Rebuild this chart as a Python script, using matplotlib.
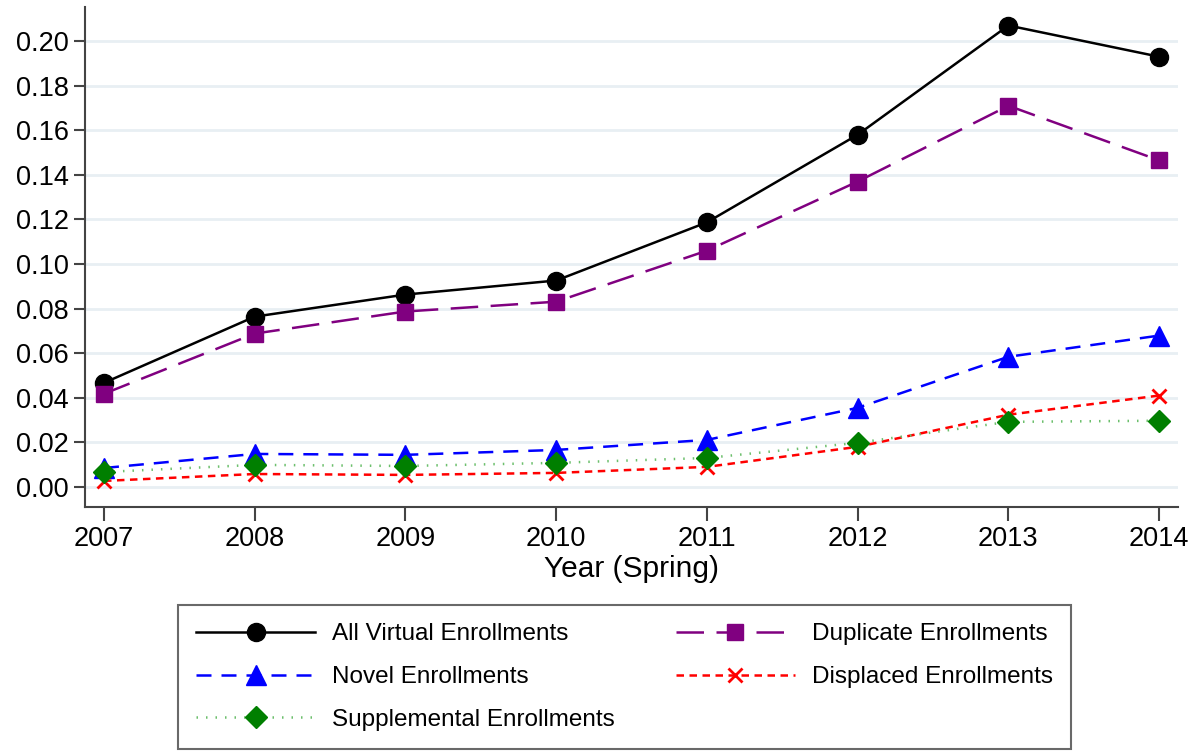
import matplotlib
matplotlib.use("Agg")
import matplotlib.pyplot as plt

years = [2007, 2008, 2009, 2010, 2011, 2012, 2013, 2014]
all_virtual = [0.0467, 0.0764, 0.0863, 0.0926, 0.1187, 0.158, 0.207, 0.193]
duplicate = [0.0418, 0.0688, 0.0787, 0.0831, 0.106, 0.137, 0.171, 0.1465]
novel = [0.0085, 0.0148, 0.0144, 0.0166, 0.0211, 0.0355, 0.0584, 0.0679]
displaced = [0.0027, 0.0058, 0.0054, 0.0063, 0.009, 0.018, 0.0324, 0.041]
supplemental = [0.0067, 0.0099, 0.0094, 0.0108, 0.013, 0.0198, 0.0292, 0.0297]
yticks = [0.00, 0.02, 0.04, 0.06, 0.08, 0.10, 0.12, 0.14, 0.16, 0.18, 0.20]

plt.rcParams['font.family'] = ['Liberation Sans', 'DejaVu Sans']

fig = plt.figure(figsize=(12.01, 7.51), dpi=100)
ax = fig.add_axes([85/1201, 244/751, (1178-85)/1201, (507-7)/751])

h_all, = ax.plot(years, all_virtual, color='black', lw=1.8, marker='o', ms=13,
                 label='All Virtual Enrollments', zorder=5)
h_dup, = ax.plot(years, duplicate, color='#800080', lw=1.8, marker='s', ms=12,
                 dashes=(11, 5), label='Duplicate Enrollments', zorder=5)
h_nov, = ax.plot(years, novel, color='blue', lw=1.8, marker='^', ms=14,
                 dashes=(6, 4), label='Novel Enrollments', zorder=4)
h_dis, = ax.plot(years, displaced, color='red', lw=1.8, marker='x', ms=10, mew=2,
                 dashes=(3, 2.2), label='Displaced Enrollments', zorder=4)
h_sup, = ax.plot(years, supplemental, color='#6cbf6c', lw=1.8, marker='D', ms=11,
                 mfc='#007f00', mec='#007f00', dashes=(0.6, 3.2),
                 label='Supplemental Enrollments', zorder=4)

ax.set_xlim(2007 - 0.126, 2014 + 0.125)
ax.set_ylim(-0.009, 0.2153)
ax.set_yticks(yticks)
ax.set_yticklabels([f"{v:.2f}" for v in yticks])
ax.set_xticks(years)
ax.grid(axis='y', color='#e8eff3', lw=2)
ax.set_axisbelow(True)
for s in ['top', 'right']:
    ax.spines[s].set_visible(False)
for s in ['left', 'bottom']:
    ax.spines[s].set_color('#444444')
    ax.spines[s].set_linewidth(1.5)
ax.tick_params(axis='both', labelsize=19.5, colors='#444444', labelcolor='black',
               width=1.5)
ax.tick_params(axis='y', length=8)
ax.tick_params(axis='x', length=10)
ax.set_xlabel('Year (Spring)', fontsize=21.5, labelpad=2)

# column-wise fill so rows read: All | Duplicate, Novel | Displaced, Supplemental
hs = [h_all, h_nov, h_sup, h_dup, h_dis]
leg = fig.legend(hs, [h.get_label() for h in hs],
                 ncol=2, loc='lower left',
                 bbox_to_anchor=(178/1201, 2/751),
                 fontsize=17.5, frameon=True, fancybox=False,
                 handlelength=4.9, handletextpad=0.7, columnspacing=2.5,
                 labelspacing=0.85, borderpad=0.75, borderaxespad=0)
leg.get_frame().set_edgecolor('#444444')
leg.get_frame().set_linewidth(1.5)

fig.savefig('out.png', dpi=100)
